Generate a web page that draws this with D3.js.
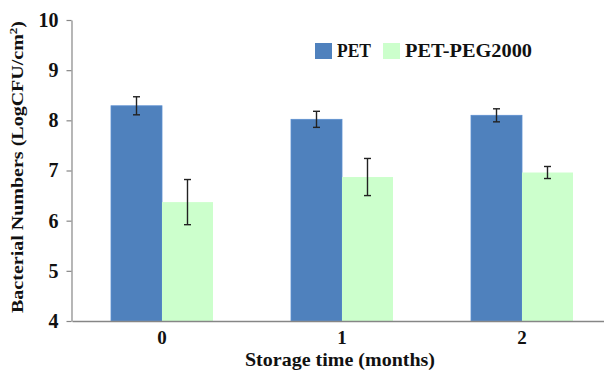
<!DOCTYPE html>
<html>
<head>
<meta charset="utf-8">
<script src="https://cdn.jsdelivr.net/npm/d3@7.9.0/dist/d3.min.js"></script>
<style>
  body { margin: 0; background: #fff; }
  svg { display: block; }
  text { font-family: "Liberation Serif", "Times New Roman", serif; font-weight: bold; fill: #111; }
</style>
</head>
<body>
<svg width="604" height="377"></svg>
<script>
const months = ['0', '1', '2'];
const seriesNames = ['PET', 'PET-PEG2000'];
const petValues = [8.29, 8.02, 8.10];
const petErrors = [0.18, 0.16, 0.13];
const pegValues = [6.37, 6.87, 6.96];
const pegErrors = [0.45, 0.37, 0.12];
const yTicks = [4, 5, 6, 7, 8, 9, 10];

const colors = d3.scaleOrdinal().domain(seriesNames).range(['#4f81bd', '#ccffcc']);

const svg = d3.select('svg');
const margin = { top: 20, right: -8, bottom: 56, left: 72 };
const width = 604, height = 377;
const serif = '"Liberation Serif", "Times New Roman", serif';

let y = d3.scaleLinear().domain([4, 10]).range([height - margin.bottom, margin.top]);
let x0 = d3.scaleBand().domain(months).range([margin.left, width - margin.right]).padding(0);
let x1 = d3.scaleBand().domain(seriesNames).range([0, x0.bandwidth()]).paddingInner(0).paddingOuter(0.765);

let rows = months.map((m, i) => ({
    month: m,
    bars: [
        { key: 'PET', value: petValues[i], err: petErrors[i] },
        { key: 'PET-PEG2000', value: pegValues[i], err: pegErrors[i] }
    ]
}));

// bars
let groups = svg.append('g').selectAll('g')
    .data(rows)
    .join('g')
    .attr('transform', d => `translate(${x0(d.month)},0)`);

groups.selectAll('rect')
    .data(d => d.bars)
    .join('rect')
    .attr('x', d => x1(d.key))
    .attr('y', d => y(d.value))
    .attr('width', x1.bandwidth())
    .attr('height', d => y(4) - y(d.value))
    .attr('fill', d => colors(d.key))
    .attr('stroke', d => d.key === 'PET' ? '#5b8fd0' : 'none')
    .attr('stroke-width', 0.8);

// error bars
let errs = groups.selectAll('g.err')
    .data(d => d.bars)
    .join('g')
    .attr('class', 'err')
    .attr('stroke', '#222')
    .attr('stroke-width', 1.4);

let cx = d => x1(d.key) + x1.bandwidth() / 2;
errs.append('line')
    .attr('x1', cx).attr('x2', cx)
    .attr('y1', d => y(d.value + d.err))
    .attr('y2', d => y(d.value - d.err));
errs.append('line')
    .attr('x1', d => cx(d) - 3.5).attr('x2', d => cx(d) + 3.5)
    .attr('y1', d => y(d.value + d.err))
    .attr('y2', d => y(d.value + d.err));
errs.append('line')
    .attr('x1', d => cx(d) - 3.5).attr('x2', d => cx(d) + 3.5)
    .attr('y1', d => y(d.value - d.err))
    .attr('y2', d => y(d.value - d.err));

// y axis
let yAxis = svg.append('g')
    .attr('transform', `translate(${margin.left - 0.5},0)`)
    .call(d3.axisLeft(y).tickValues(yTicks).tickFormat(d3.format('d'))
        .tickSize(5).tickSizeOuter(0).tickPadding(8))
    .attr('font-family', serif);
yAxis.selectAll('path, line').attr('stroke', '#868686').attr('stroke-width', 1.2);
yAxis.selectAll('text').style('font-family', serif).attr('font-size', 20);

// x axis
let xAxis = svg.append('g')
    .attr('transform', `translate(0,${y(4)})`)
    .call(d3.axisBottom(x0).tickSize(0).tickPadding(10))
    .attr('font-family', serif);
xAxis.select('path').attr('stroke', '#868686').attr('stroke-width', 1.4);
xAxis.selectAll('text').style('font-family', serif).attr('font-size', 19);

// axis titles
svg.append('text')
    .attr('x', 340)
    .attr('y', 366)
    .attr('text-anchor', 'middle')
    .attr('font-size', 19)
    .attr('textLength', 190)
    .attr('lengthAdjust', 'spacingAndGlyphs')
    .text('Storage time (months)');

svg.append('text')
    .attr('transform', 'translate(23,167) rotate(-90)')
    .attr('text-anchor', 'middle')
    .attr('font-size', 17)
    .attr('textLength', 292)
    .attr('lengthAdjust', 'spacingAndGlyphs')
    .html('Bacterial Numbers (LogCFU/cm<tspan dy="-6" font-size="11">2</tspan><tspan dy="6">)</tspan>');

// legend
let legendX = [315, 383];
let legend = svg.append('g').selectAll('g')
    .data(seriesNames)
    .join('g')
    .attr('transform', (d, i) => `translate(${legendX[i]},43)`);
legend.append('rect')
    .attr('width', 17)
    .attr('height', 16)
    .attr('fill', d => colors(d));
legend.append('text')
    .attr('x', 22)
    .attr('y', 14)
    .attr('font-size', 19)
    .attr('textLength', d => d === 'PET' ? 34 : 127)
    .attr('lengthAdjust', 'spacingAndGlyphs')
    .text(d => d);
</script>
</body>
</html>
